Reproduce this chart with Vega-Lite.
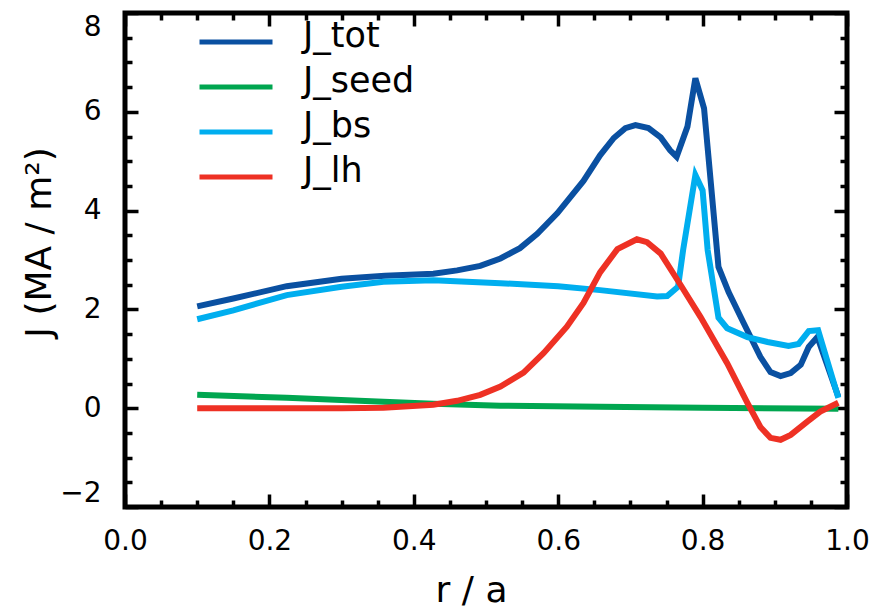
{
  "$schema": "https://vega.github.io/schema/vega-lite/v6.json",
  "width": 722,
  "height": 494,
  "autosize": {"type": "none"},
  "padding": {"left": 125, "top": 13, "right": 22, "bottom": 101},
  "background": "white",
  "config": {
    "font": "DejaVu Sans",
    "view": {"stroke": "black", "strokeWidth": 5},
    "axis": {"labelColor": "black", "titleColor": "black", "titleFontWeight": "normal", "labelFontSize": 28, "titleFontSize": 36, "grid": false, "domain": false, "tickColor": "black", "tickCap": "butt", "labelFlush": false, "labelOverlap": false}
  },
  "data": {"values": [
    {"r": 0.1, "J": 2.06, "s": "J_tot"},
    {"r": 0.15, "J": 2.22, "s": "J_tot"},
    {"r": 0.224, "J": 2.47, "s": "J_tot"},
    {"r": 0.3, "J": 2.62, "s": "J_tot"},
    {"r": 0.36, "J": 2.68, "s": "J_tot"},
    {"r": 0.427, "J": 2.72, "s": "J_tot"},
    {"r": 0.46, "J": 2.79, "s": "J_tot"},
    {"r": 0.492, "J": 2.88, "s": "J_tot"},
    {"r": 0.52, "J": 3.03, "s": "J_tot"},
    {"r": 0.547, "J": 3.24, "s": "J_tot"},
    {"r": 0.571, "J": 3.53, "s": "J_tot"},
    {"r": 0.599, "J": 3.95, "s": "J_tot"},
    {"r": 0.635, "J": 4.6, "s": "J_tot"},
    {"r": 0.658, "J": 5.12, "s": "J_tot"},
    {"r": 0.677, "J": 5.47, "s": "J_tot"},
    {"r": 0.693, "J": 5.67, "s": "J_tot"},
    {"r": 0.707, "J": 5.73, "s": "J_tot"},
    {"r": 0.725, "J": 5.67, "s": "J_tot"},
    {"r": 0.742, "J": 5.48, "s": "J_tot"},
    {"r": 0.755, "J": 5.22, "s": "J_tot"},
    {"r": 0.764, "J": 5.09, "s": "J_tot"},
    {"r": 0.779, "J": 5.7, "s": "J_tot"},
    {"r": 0.79, "J": 6.68, "s": "J_tot"},
    {"r": 0.802, "J": 6.07, "s": "J_tot"},
    {"r": 0.822, "J": 2.86, "s": "J_tot"},
    {"r": 0.836, "J": 2.35, "s": "J_tot"},
    {"r": 0.857, "J": 1.72, "s": "J_tot"},
    {"r": 0.88, "J": 1.04, "s": "J_tot"},
    {"r": 0.894, "J": 0.73, "s": "J_tot"},
    {"r": 0.908, "J": 0.65, "s": "J_tot"},
    {"r": 0.922, "J": 0.71, "s": "J_tot"},
    {"r": 0.936, "J": 0.88, "s": "J_tot"},
    {"r": 0.947, "J": 1.24, "s": "J_tot"},
    {"r": 0.959, "J": 1.44, "s": "J_tot"},
    {"r": 0.988, "J": 0.23, "s": "J_tot"},
    {"r": 0.1, "J": 0.27, "s": "J_seed"},
    {"r": 0.224, "J": 0.21, "s": "J_seed"},
    {"r": 0.358, "J": 0.13, "s": "J_seed"},
    {"r": 0.427, "J": 0.09, "s": "J_seed"},
    {"r": 0.52, "J": 0.05, "s": "J_seed"},
    {"r": 0.658, "J": 0.03, "s": "J_seed"},
    {"r": 0.8, "J": 0.01, "s": "J_seed"},
    {"r": 0.988, "J": -0.01, "s": "J_seed"},
    {"r": 0.1, "J": 1.8, "s": "J_bs"},
    {"r": 0.15, "J": 1.98, "s": "J_bs"},
    {"r": 0.224, "J": 2.29, "s": "J_bs"},
    {"r": 0.3, "J": 2.46, "s": "J_bs"},
    {"r": 0.358, "J": 2.56, "s": "J_bs"},
    {"r": 0.427, "J": 2.59, "s": "J_bs"},
    {"r": 0.52, "J": 2.53, "s": "J_bs"},
    {"r": 0.6, "J": 2.47, "s": "J_bs"},
    {"r": 0.658, "J": 2.39, "s": "J_bs"},
    {"r": 0.737, "J": 2.26, "s": "J_bs"},
    {"r": 0.751, "J": 2.27, "s": "J_bs"},
    {"r": 0.766, "J": 2.46, "s": "J_bs"},
    {"r": 0.773, "J": 3.2, "s": "J_bs"},
    {"r": 0.79, "J": 4.72, "s": "J_bs"},
    {"r": 0.8, "J": 4.41, "s": "J_bs"},
    {"r": 0.807, "J": 3.2, "s": "J_bs"},
    {"r": 0.822, "J": 1.83, "s": "J_bs"},
    {"r": 0.834, "J": 1.62, "s": "J_bs"},
    {"r": 0.862, "J": 1.44, "s": "J_bs"},
    {"r": 0.89, "J": 1.34, "s": "J_bs"},
    {"r": 0.919, "J": 1.26, "s": "J_bs"},
    {"r": 0.933, "J": 1.3, "s": "J_bs"},
    {"r": 0.947, "J": 1.56, "s": "J_bs"},
    {"r": 0.96, "J": 1.58, "s": "J_bs"},
    {"r": 0.988, "J": 0.21, "s": "J_bs"},
    {"r": 0.1, "J": 0.0, "s": "J_lh"},
    {"r": 0.3, "J": 0.0, "s": "J_lh"},
    {"r": 0.358, "J": 0.01, "s": "J_lh"},
    {"r": 0.427, "J": 0.07, "s": "J_lh"},
    {"r": 0.46, "J": 0.15, "s": "J_lh"},
    {"r": 0.492, "J": 0.27, "s": "J_lh"},
    {"r": 0.52, "J": 0.44, "s": "J_lh"},
    {"r": 0.552, "J": 0.72, "s": "J_lh"},
    {"r": 0.58, "J": 1.12, "s": "J_lh"},
    {"r": 0.612, "J": 1.65, "s": "J_lh"},
    {"r": 0.635, "J": 2.13, "s": "J_lh"},
    {"r": 0.658, "J": 2.75, "s": "J_lh"},
    {"r": 0.682, "J": 3.22, "s": "J_lh"},
    {"r": 0.709, "J": 3.42, "s": "J_lh"},
    {"r": 0.723, "J": 3.36, "s": "J_lh"},
    {"r": 0.742, "J": 3.13, "s": "J_lh"},
    {"r": 0.765, "J": 2.6, "s": "J_lh"},
    {"r": 0.797, "J": 1.85, "s": "J_lh"},
    {"r": 0.834, "J": 0.91, "s": "J_lh"},
    {"r": 0.862, "J": 0.11, "s": "J_lh"},
    {"r": 0.88, "J": -0.38, "s": "J_lh"},
    {"r": 0.894, "J": -0.6, "s": "J_lh"},
    {"r": 0.908, "J": -0.64, "s": "J_lh"},
    {"r": 0.922, "J": -0.54, "s": "J_lh"},
    {"r": 0.945, "J": -0.27, "s": "J_lh"},
    {"r": 0.963, "J": -0.07, "s": "J_lh"},
    {"r": 0.988, "J": 0.11, "s": "J_lh"}
  ]},
  "resolve": {"axis": {"x": "independent", "y": "independent"}},
  "layer": [
    {
      "mark": {"type": "line", "strokeWidth": 6, "strokeJoin": "miter", "strokeCap": "butt"},
      "encoding": {
        "x": {"field": "r", "type": "quantitative", "scale": {"domain": [0, 1], "nice": false, "zero": false},
          "axis": {"orient": "bottom", "values": [0, 0.2, 0.4, 0.6, 0.8, 1], "format": ".1f", "tickSize": -13, "tickWidth": 3.5, "labelPadding": 33, "title": "r / a", "titleX": 346, "titleY": 94, "titleBaseline": "alphabetic"}},
        "y": {"field": "J", "type": "quantitative", "scale": {"domain": [-2, 8], "nice": false, "zero": false},
          "axis": {"orient": "left", "values": [-2, 0, 2, 4, 6, 8], "format": "d", "tickSize": -13, "tickWidth": 3.5, "labelPadding": 37, "labelFlush": true, "title": "J (MA / m²)", "titleX": -75, "titleY": 229, "titleAngle": -90, "titleBaseline": "alphabetic", "titleAlign": "center"}},
        "color": {"field": "s", "type": "nominal", "sort": ["J_tot", "J_seed", "J_bs", "J_lh"],
          "scale": {"domain": ["J_tot", "J_seed", "J_bs", "J_lh"], "range": ["#0a50a1", "#00a650", "#00aeef", "#ee3124"]},
          "legend": {"title": null, "orient": "none", "legendX": 72, "legendY": 9, "symbolType": "stroke", "symbolSize": 5329, "symbolStrokeWidth": 5, "labelFontSize": 35, "labelColor": "black", "labelOffset": 28, "clipHeight": 40, "rowPadding": 2, "padding": 0, "symbolOffset": 0,
            "labelFont": "DejaVu Sans",
            "encode": {"labels": {"update": {"dy": {"value": -6}}}}}}
      }
    },
    {
      "mark": {"type": "point", "opacity": 0},
      "encoding": {
        "x": {"field": "r", "type": "quantitative", "axis": {"orient": "bottom", "values": [0.05, 0.1, 0.15, 0.25, 0.3, 0.35, 0.45, 0.5, 0.55, 0.65, 0.7, 0.75, 0.85, 0.9, 0.95], "labels": false, "tickSize": -7, "tickWidth": 3.5, "title": null}},
        "y": {"field": "J", "type": "quantitative", "axis": {"orient": "left", "values": [-1.5, -1, -0.5, 0.5, 1, 1.5, 2.5, 3, 3.5, 4.5, 5, 5.5, 6.5, 7, 7.5], "labels": false, "tickSize": -7, "tickWidth": 3.5, "title": null}}
      }
    },
    {
      "mark": {"type": "point", "opacity": 0},
      "encoding": {
        "x": {"field": "r", "type": "quantitative", "axis": {"orient": "top", "values": [0, 0.2, 0.4, 0.6, 0.8, 1], "labels": false, "tickSize": -13, "tickWidth": 3.5, "title": null}},
        "y": {"field": "J", "type": "quantitative", "axis": {"orient": "right", "values": [-2, 0, 2, 4, 6, 8], "labels": false, "tickSize": -13, "tickWidth": 3.5, "title": null}}
      }
    },
    {
      "mark": {"type": "point", "opacity": 0},
      "encoding": {
        "x": {"field": "r", "type": "quantitative", "axis": {"orient": "top", "values": [0.05, 0.1, 0.15, 0.25, 0.3, 0.35, 0.45, 0.5, 0.55, 0.65, 0.7, 0.75, 0.85, 0.9, 0.95], "labels": false, "tickSize": -7, "tickWidth": 3.5, "title": null}},
        "y": {"field": "J", "type": "quantitative", "axis": {"orient": "right", "values": [-1.5, -1, -0.5, 0.5, 1, 1.5, 2.5, 3, 3.5, 4.5, 5, 5.5, 6.5, 7, 7.5], "labels": false, "tickSize": -7, "tickWidth": 3.5, "title": null}}
      }
    }
  ]
}
